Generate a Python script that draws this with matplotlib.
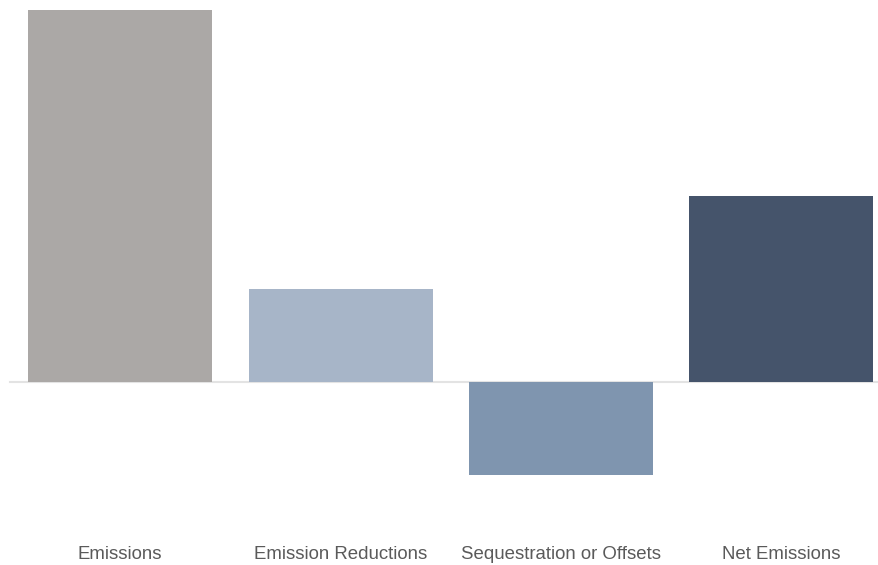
import matplotlib
matplotlib.use("Agg")
import matplotlib.pyplot as plt

categories = ["Emissions", "Emission Reductions", "Sequestration or Offsets", "Net Emissions"]
values = [4, 1, -1, 2]
colors = ["#aba8a6", "#a7b5c8", "#7f95af", "#45546b"]

plt.rcParams['font.family'] = ['Liberation Sans', 'DejaVu Sans']
fig = plt.figure(figsize=(8.79, 5.65), dpi=100)
W, H = 879, 565
ax_top_px, ax_bot_px = 0, 500
ax = fig.add_axes([0, (H - ax_bot_px) / H, 1, (ax_bot_px - ax_top_px) / H])

spacing = 220.5
c0 = 120
scale = 93.0
base_px = 382
ax.set_xlim((0 - c0) / spacing, (W - c0) / spacing)
ax.set_ylim(-(ax_bot_px - base_px) / scale, (base_px - ax_top_px) / scale)

x = list(range(len(categories)))
ax.bar(x, values, width=184 / spacing, color=colors, zorder=2)
ax.axhline(0, xmin=10 / W, xmax=1, color="#e3e3e3", lw=1.5, zorder=1)

ax.set_xticks(x)
ax.set_xticklabels(categories, fontsize=13.4, color="#5a5a5a")
ax.tick_params(axis='x', length=0, pad=33)
ax.set_yticks([])
for s in ax.spines.values():
    s.set_visible(False)
ax.patch.set_alpha(0)

fig.savefig("out.png", dpi=100)
